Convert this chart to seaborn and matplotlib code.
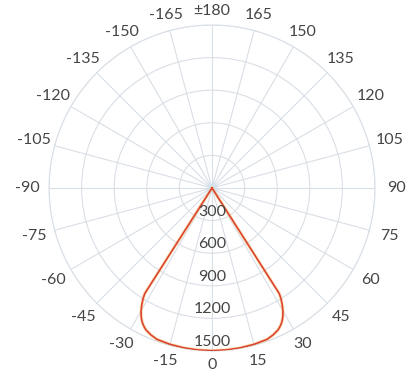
import numpy as np
import pandas as pd
import matplotlib
matplotlib.use("Agg")
import matplotlib.pyplot as plt
import matplotlib.transforms as mtransforms
import seaborn as sns

# Luminous intensity distribution (cd) by emission angle (degrees)
angles_deg = [-35, -32.5, -32, -31, -30, -29, -28, -27, -26, -25, -22.5, -20,
              -15, -10, -5, 0, 5, 10, 15, 20, 22.5, 25, 26, 27, 28, 29, 30,
              31, 32, 32.5, 35]
intensity = [0, 1150, 1195, 1255, 1305, 1345, 1378, 1403, 1423, 1440, 1465,
             1482, 1490, 1494, 1496, 1497, 1496, 1494, 1490, 1482, 1465, 1440,
             1423, 1403, 1378, 1345, 1305, 1255, 1195, 1150, 0]

theta_ticks = list(range(0, 360, 15))
theta_labels = ["0", "15", "30", "45", "60", "75", "90", "105", "120", "135",
                "150", "165", "±180", "-165", "-150", "-135", "-120", "-105",
                "-90", "-75", "-60", "-45", "-30", "-15"]
r_ticks = [300, 600, 900, 1200, 1500]
r_labels = ["300", "600", "900", "1200", "1500"]

sns.set_style("white")
plt.rcParams["font.family"] = ["Lato", "DejaVu Sans"]

GRID = "#d9dfe6"
TEXT = "#454545"
R_MAX = 1500

fig = plt.figure(figsize=(4.14, 3.79), dpi=100)
ax = fig.add_axes([0.1184, 0.0739, 0.7874, 0.8602], projection="polar")
ax.set_theta_zero_location("S")
ax.set_theta_direction(1)
ax.set_ylim(0, R_MAX)

ax.set_thetagrids(theta_ticks, [""] * len(theta_ticks))
ax.set_rticks(r_ticks)
ax.set_yticklabels([])
ax.grid(True, color=GRID, linewidth=0.8)
ax.spines["polar"].set_color(GRID)
ax.spines["polar"].set_linewidth(0.8)

# faint glow at the origin
ax.scatter([0], [0], s=60, color="#cfe2f3", alpha=0.6, linewidths=0, zorder=2)

df = pd.DataFrame({"theta": np.deg2rad(angles_deg), "cd": intensity})
sns.lineplot(data=df, x="theta", y="cd", sort=False, estimator=None, ax=ax,
             color="#f2c46e", linewidth=2.4, alpha=0.45, zorder=3)
sns.lineplot(data=df, x="theta", y="cd", sort=False, estimator=None, ax=ax,
             color="#dc4430", linewidth=1.2, zorder=4)
ax.set_xlabel("")
ax.set_ylabel("")

# angle labels just outside the plot edge; wider clearance at the sides,
# where the labels extend horizontally
for t, s in zip(theta_ticks, theta_labels):
    rad = np.deg2rad(t)
    ring = R_MAX * (1.085 + 0.045 * abs(np.sin(rad)))
    ax.text(rad, ring, s, ha="center", va="center",
            fontsize=11.5, color=TEXT, clip_on=False)

# radial scale labels sit just inside each ring along the 0° direction
lbl_tr = mtransforms.offset_copy(ax.transData, fig=fig, x=0, y=9, units="dots")
for v, s in zip(r_ticks, r_labels):
    ax.text(0, v, s, transform=lbl_tr, ha="center", va="center",
            fontsize=11.5, color=TEXT, zorder=5)

fig.savefig("out.png", dpi=100)
